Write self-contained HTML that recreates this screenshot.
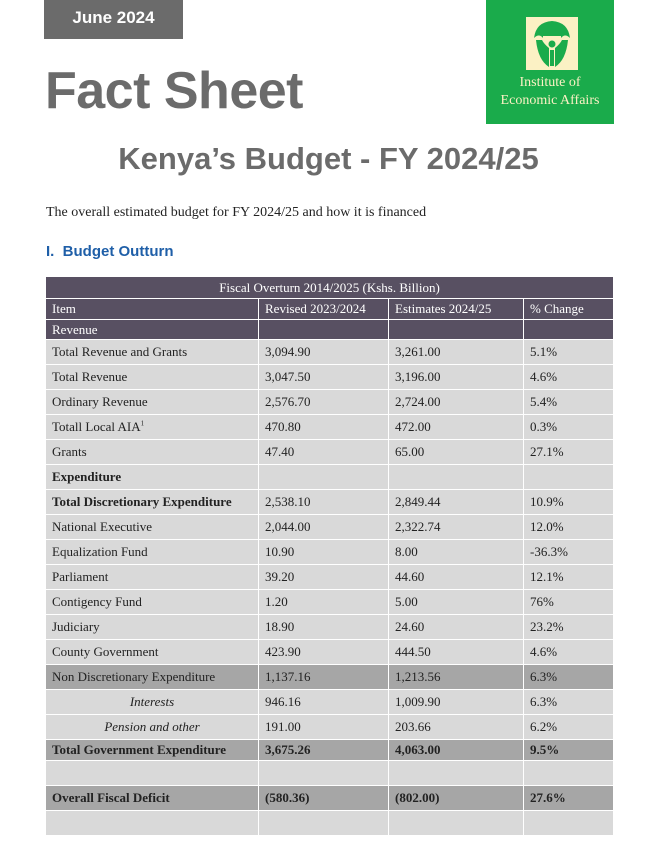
<!DOCTYPE html>
<html><head><meta charset="utf-8">
<style>
body{margin:0;width:657px;height:847px;background:#fff;position:relative;overflow:hidden;font-family:"Liberation Serif",serif;}
.abs{position:absolute;}
#date{left:44px;top:0;width:139px;height:39px;background:#6b6b6b;color:#fff;font-family:"Liberation Sans",sans-serif;font-weight:bold;font-size:17px;line-height:36px;text-align:center;}
#title{left:45px;top:58px;font-family:"Liberation Sans",sans-serif;font-weight:bold;font-size:52px;color:#6b6b6b;letter-spacing:-0.5px;line-height:66px;}
#logo{left:486px;top:0;width:128px;height:124px;background:#1aab4b;}
#sub{left:0;width:657px;top:141px;text-align:center;font-family:"Liberation Sans",sans-serif;font-weight:bold;font-size:31px;color:#6b6b6b;}
#intro{left:46px;top:205px;font-size:14px;color:#222;}
#sec{left:46px;top:243px;font-family:"Liberation Sans",sans-serif;font-weight:bold;font-size:15px;color:#1f5fa8;}
table{position:absolute;left:45px;top:276px;width:568px;border-collapse:collapse;font-size:13px;color:#222;table-layout:fixed;}
td{border:1px solid #fff;padding:0 0 0 6px;line-height:14px;overflow:hidden;white-space:nowrap;}
col.c1{width:213px}col.c2{width:130px}col.c3{width:135px}col.c4{width:90px}
tr.cap td{background:#585062;color:#fff;text-align:center;padding:0;}
tr.hd td{background:#585062;color:#fff;}
tr.l td{background:#d9d9d9;}
tr.d td{background:#a6a6a6;}
tr.b td{font-weight:bold;}
td.it{font-style:italic;text-align:center;padding:0;}
tr.r td{height:24px;}
</style></head><body>
<div id="date" class="abs">June 2024</div>
<div id="title" class="abs">Fact Sheet</div>
<div id="logo" class="abs">
<svg width="128" height="124">
<rect x="40" y="17" width="52" height="53" fill="#fbf1c4"/>
<path d="M48 38 Q50 22 66 21 Q82 22 84 38 Q79 33 75 38 L75 36 L57 36 L57 38 Q53 33 48 38Z" fill="#1aab4b"/>
<path d="M50 40 Q52 60 63 67 L63 48 Q58 44 56 40Z M82 40 Q80 60 69 67 L69 48 Q74 44 76 40Z" fill="#1aab4b"/>
<circle cx="66" cy="44" r="3.5" fill="#1aab4b"/>
<rect x="64" y="50" width="4" height="16" fill="#1aab4b"/>
<text x="64" y="86" font-family="Liberation Serif,serif" font-size="14" fill="#fbf1c4" text-anchor="middle">Institute of</text>
<text x="64" y="104" font-family="Liberation Serif,serif" font-size="14" fill="#fbf1c4" text-anchor="middle">Economic Affairs</text>
</svg></div>
<div id="sub" class="abs">Kenya’s Budget - FY 2024/25</div>
<div id="intro" class="abs">The overall estimated budget for FY 2024/25 and how it is financed</div>
<div id="sec" class="abs">I.&nbsp; Budget Outturn</div>
<table>
<colgroup><col class="c1"><col class="c2"><col class="c3"><col class="c4"></colgroup>
<tr class="cap"><td colspan="4" style="height:21px">Fiscal Overturn 2014/2025 (Kshs. Billion)</td></tr>
<tr class="hd"><td style="height:20px">Item</td><td>Revised 2023/2024</td><td>Estimates 2024/25</td><td>% Change</td></tr>
<tr class="hd"><td style="height:19px">Revenue</td><td></td><td></td><td></td></tr>
<tr class="l r"><td>Total Revenue and Grants</td><td>3,094.90</td><td>3,261.00</td><td>5.1%</td></tr>
<tr class="l r"><td>Total Revenue</td><td>3,047.50</td><td>3,196.00</td><td>4.6%</td></tr>
<tr class="l r"><td>Ordinary Revenue</td><td>2,576.70</td><td>2,724.00</td><td>5.4%</td></tr>
<tr class="l r"><td>Totall Local AIA<sup style="font-size:7px;line-height:0">1</sup></td><td>470.80</td><td>472.00</td><td>0.3%</td></tr>
<tr class="l r"><td>Grants</td><td>47.40</td><td>65.00</td><td>27.1%</td></tr>
<tr class="l b r"><td>Expenditure</td><td></td><td></td><td></td></tr>
<tr class="l r"><td style="font-weight:bold">Total Discretionary Expenditure</td><td>2,538.10</td><td>2,849.44</td><td>10.9%</td></tr>
<tr class="l r"><td>National Executive</td><td>2,044.00</td><td>2,322.74</td><td>12.0%</td></tr>
<tr class="l r"><td>Equalization Fund</td><td>10.90</td><td>8.00</td><td>-36.3%</td></tr>
<tr class="l r"><td>Parliament</td><td>39.20</td><td>44.60</td><td>12.1%</td></tr>
<tr class="l r"><td>Contigency Fund</td><td>1.20</td><td>5.00</td><td>76%</td></tr>
<tr class="l r"><td>Judiciary</td><td>18.90</td><td>24.60</td><td>23.2%</td></tr>
<tr class="l r"><td>County Government</td><td>423.90</td><td>444.50</td><td>4.6%</td></tr>
<tr class="d r"><td>Non Discretionary Expenditure</td><td>1,137.16</td><td>1,213.56</td><td>6.3%</td></tr>
<tr class="l r"><td class="it">Interests</td><td>946.16</td><td>1,009.90</td><td>6.3%</td></tr>
<tr class="l r"><td class="it">Pension and other</td><td>191.00</td><td>203.66</td><td>6.2%</td></tr>
<tr class="d b"><td style="height:20px">Total Government Expenditure</td><td>3,675.26</td><td>4,063.00</td><td>9.5%</td></tr>
<tr class="l r"><td></td><td></td><td></td><td></td></tr>
<tr class="d b r"><td>Overall Fiscal Deficit</td><td>(580.36)</td><td>(802.00)</td><td>27.6%</td></tr>
<tr class="l r"><td></td><td></td><td></td><td></td></tr>
</table>
</body></html>
